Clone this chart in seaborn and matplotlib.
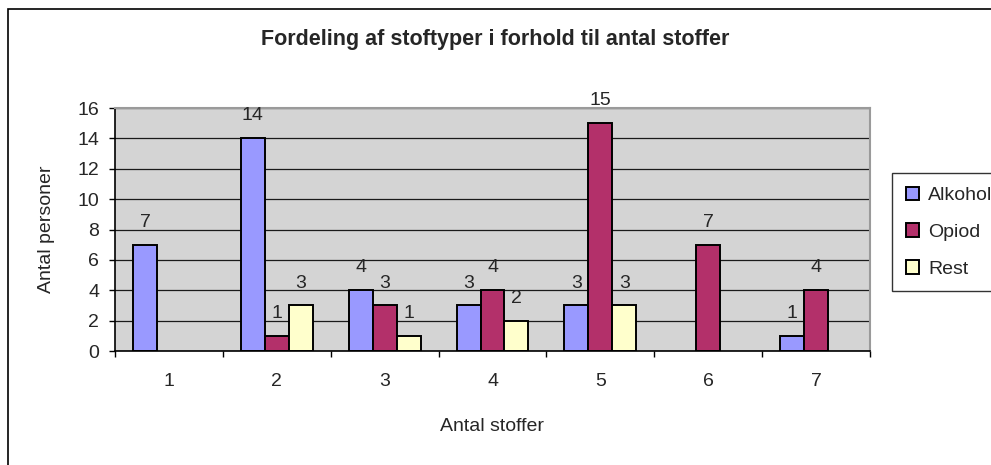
import pandas as pd
import matplotlib
matplotlib.use("Agg")
import matplotlib.pyplot as plt
from matplotlib.patches import Patch, Rectangle
import seaborn as sns

# data (missing = no bar)
antal_stoffer = [1, 2, 3, 4, 5, 6, 7]
alkohol = [7, 14, 4, 3, 3, None, 1]
opiod = [None, 1, 3, 4, 15, 7, 4]
rest = [None, 3, 1, 2, 3, None, None]

series = ["Alkohol", "Opiod", "Rest"]
colors = ["#9999FF", "#B3306A", "#FFFFCC"]

df = pd.DataFrame({"Antal stoffer": antal_stoffer,
                   "Alkohol": alkohol, "Opiod": opiod, "Rest": rest})
df_long = df.melt(id_vars="Antal stoffer", var_name="Stof", value_name="Antal")
df_long = df_long.dropna(subset=["Antal"])

sns.set_theme(style="white")
plt.rcParams["font.family"] = ["Liberation Sans", "DejaVu Sans"]

FS = 14

fig = plt.figure(figsize=(9.91, 4.65), dpi=100)
ax = fig.add_axes([115 / 991, 1 - 351 / 465, 755 / 991, 243 / 465])
ax.set_facecolor("#D4D4D4")

sns.barplot(data=df_long, x="Antal stoffer", y="Antal", hue="Stof",
            order=antal_stoffer, hue_order=series, palette=colors,
            saturation=1, width=2 / 3, edgecolor="black", linewidth=1.4,
            legend=False, ax=ax)

for cont in ax.containers:
    ax.bar_label(cont, fmt="%d", padding=10, fontsize=FS)

ax.set_xlim(-0.5, 6.5)
ax.set_ylim(0, 16)
ax.set_yticks(range(0, 17, 2))
ax.set_xticks(range(7))
ax.set_xticklabels([str(v) for v in antal_stoffer])
ax.set_xticks([i - 0.5 for i in range(8)], minor=True)
ax.tick_params(axis="x", which="major", length=0, pad=16, labelsize=FS)
ax.tick_params(axis="x", which="minor", length=4, width=1, color="black",
               direction="out", bottom=True)
ax.tick_params(axis="y", length=4.5, width=1, color="black",
               direction="out", left=True, pad=7, labelsize=FS)

ax.set_axisbelow(True)
ax.yaxis.grid(True, color="#1A1A1A", linewidth=0.9)

for side in ["top", "right"]:
    ax.spines[side].set_color("#9A9A9A")
    ax.spines[side].set_linewidth(1.5)
for side in ["left", "bottom"]:
    ax.spines[side].set_color("black")
    ax.spines[side].set_linewidth(1.2)

ax.set_xlabel("Antal stoffer", fontsize=FS)
ax.set_ylabel("Antal personer", fontsize=FS)
ax.xaxis.set_label_coords(0.5, -0.276)
ax.yaxis.set_label_coords(-0.0795, 0.5)

fig.suptitle("Fordeling af stoftyper i forhold til antal stoffer",
             x=0.5, y=1 - 40 / 465, va="center", fontsize=15.5,
             fontweight="bold")

handles = [Patch(facecolor=c, edgecolor="black", linewidth=1.4) for c in colors]
fig.legend(handles, series, loc="upper left",
           bbox_to_anchor=(892 / 991, 1 - 173 / 465),
           frameon=True, fancybox=False, edgecolor="black",
           fontsize=FS, handlelength=0.7, handleheight=0.7,
           handletextpad=0.45, labelspacing=0.98, borderpad=0.7,
           borderaxespad=0)
fig.legends[0].get_frame().set_linewidth(1.0)

# outer chart border (right/bottom edges fall outside the picture)
fig.add_artist(Rectangle((8 / 991, -0.05), 1.1, 1 - 9 / 465 + 0.05,
                         transform=fig.transFigure, fill=False,
                         edgecolor="black", linewidth=1.2))

fig.savefig("out.png", dpi=100, facecolor="white")
